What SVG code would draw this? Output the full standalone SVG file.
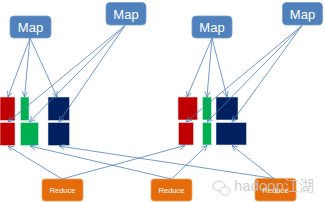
<svg xmlns="http://www.w3.org/2000/svg" width="325" height="202" viewBox="0 0 325 202">
<defs>
<style>
.map rect{fill:#4F81BD;stroke:#739CD0;stroke-width:0.8}
.map text{fill:#fff;font-family:"Liberation Sans",Arial,sans-serif;font-size:13px;text-anchor:middle}
.red{fill:#C00000;stroke:#F0D8D8;stroke-width:0.6}
.grn{fill:#00B050;stroke:#D8F0E0;stroke-width:0.6}
.nvy{fill:#002060;stroke:#D8DCE8;stroke-width:0.6}
.red-node rect{fill:#E46C0A;stroke:#F0A060;stroke-width:0.8}
.red-node text{fill:#fff;font-family:"Liberation Sans",Arial,sans-serif;font-size:7.5px;text-anchor:middle}
.conn line{stroke:#4F81BD;stroke-width:0.8;marker-end:url(#arr)}
.wm{fill:#c8c8c8;font-family:"Liberation Sans","Noto Sans CJK SC",sans-serif;font-size:15px}
</style>
<marker id="arr" viewBox="0 0 8 8" refX="7.5" refY="4" markerWidth="6" markerHeight="6" markerUnits="userSpaceOnUse" orient="auto">
<path d="M0,0.5 L7.5,4 L0,7.5" fill="none" stroke="#4F81BD" stroke-width="1"/>
</marker>
</defs>

<g id="map1" class="map"><rect x="10" y="16" width="41" height="22" rx="4"/><text x="30.5" y="31.5">Map</text></g>
<g id="map2" class="map"><rect x="106" y="2.5" width="40" height="22.5" rx="4"/><text x="126" y="18.5">Map</text></g>
<g id="map3" class="map"><rect x="192" y="16" width="40" height="22" rx="4"/><text x="212" y="31.5">Map</text></g>
<g id="map4" class="map"><rect x="282.5" y="2.5" width="40" height="22.5" rx="4"/><text x="302.5" y="18.5">Map</text></g>

<g id="left-blocks">
<rect class="red" x="0" y="97" width="15" height="23.5"/>
<rect class="grn" x="20.5" y="97" width="8.5" height="23.5"/>
<rect class="nvy" x="48" y="97" width="21.5" height="23.5"/>
<rect class="red" x="0" y="122.5" width="15" height="23"/>
<rect class="grn" x="20.5" y="122.5" width="18" height="23"/>
<rect class="nvy" x="48" y="122.5" width="21.5" height="23"/>
</g>
<g id="right-blocks">
<rect class="red" x="178" y="97" width="19.5" height="23"/>
<rect class="grn" x="202.5" y="97" width="9" height="23"/>
<rect class="nvy" x="216" y="97" width="22" height="23"/>
<rect class="red" x="178.5" y="122.5" width="15" height="22.5"/>
<rect class="grn" x="202.5" y="122.5" width="9" height="22.5"/>
<rect class="nvy" x="216" y="122.5" width="30.5" height="22.5"/>
</g>

<g id="reduce1" class="red-node"><rect x="42" y="179" width="41" height="22" rx="3"/><text x="62.5" y="192.7">Reduce</text></g>
<g id="reduce2" class="red-node"><rect x="151" y="179" width="41" height="22" rx="3"/><text x="171.5" y="192.7">Reduce</text></g>
<g id="reduce3" class="red-node"><rect x="255" y="178.5" width="41" height="22.5" rx="3"/><text x="275.5" y="192.7">Reduce</text></g>

<g id="connectors" class="conn">
<line x1="30" y1="38" x2="8" y2="97"/>
<line x1="30" y1="38" x2="24.5" y2="97"/>
<line x1="30" y1="38" x2="57" y2="97"/>
<line x1="125" y1="25.5" x2="8" y2="122"/>
<line x1="125" y1="25.5" x2="29.5" y2="122"/>
<line x1="125" y1="25.5" x2="59" y2="122"/>
<line x1="212" y1="38" x2="187" y2="97"/>
<line x1="212" y1="38" x2="207" y2="97"/>
<line x1="212" y1="38" x2="227" y2="97"/>
<line x1="302" y1="25.5" x2="186" y2="122"/>
<line x1="302" y1="25.5" x2="207" y2="122"/>
<line x1="302" y1="25.5" x2="232" y2="122"/>
<line x1="62" y1="179" x2="8" y2="146"/>
<line x1="62" y1="179" x2="185" y2="145.5"/>
<line x1="171.5" y1="179" x2="30" y2="146"/>
<line x1="171.5" y1="179" x2="207" y2="145.5"/>
<line x1="274" y1="178.5" x2="59" y2="146"/>
<line x1="274" y1="178.5" x2="232" y2="145.5"/>
</g>

<g id="watermark" opacity="0.85">
<ellipse cx="219" cy="186" rx="6" ry="5" fill="none" stroke="#c8c8c8" stroke-width="1"/>
<ellipse cx="225" cy="191" rx="5" ry="4.2" fill="#fff" stroke="#c8c8c8" stroke-width="1"/>
<text class="wm" x="234" y="191">hadoop江湖</text>
</g>
</svg>
